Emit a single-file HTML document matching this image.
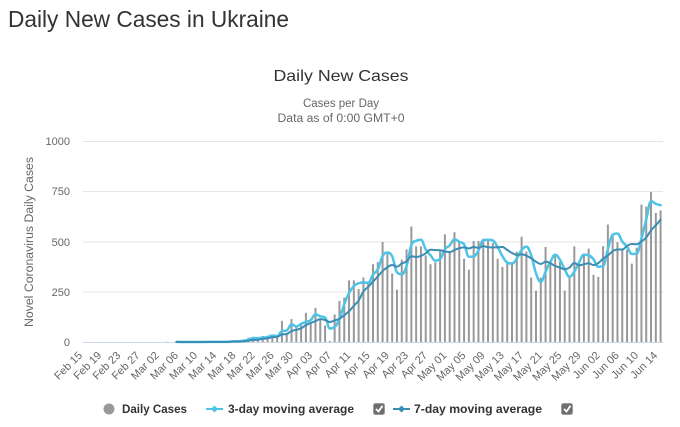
<!DOCTYPE html>
<html><head><meta charset="utf-8"><style>
html,body{margin:0;padding:0;background:#fff;}
body{width:680px;height:427px;overflow:hidden;}
svg{display:block;font-family:"Liberation Sans",Arial,sans-serif;}
</style></head><body>
<svg id="s" width="680" height="427" viewBox="0 0 680 427" xmlns="http://www.w3.org/2000/svg">
<rect width="680" height="427" fill="#fff"/>
<text x="8" y="27" font-size="23" fill="#333" textLength="281" lengthAdjust="spacingAndGlyphs">Daily New Cases in Ukraine</text>
<text x="341" y="81" font-size="16" fill="#333" text-anchor="middle" textLength="135" lengthAdjust="spacingAndGlyphs">Daily New Cases</text>
<text x="341" y="107" font-size="11.5" fill="#666" text-anchor="middle">Cases per Day</text>
<text x="341" y="122" font-size="11.5" fill="#666" text-anchor="middle" textLength="127" lengthAdjust="spacingAndGlyphs">Data as of 0:00 GMT+0</text>
<g stroke="#e6e6e6" stroke-width="1">
<line x1="83" y1="141.5" x2="663" y2="141.5"/>
<line x1="83" y1="191.5" x2="663" y2="191.5"/>
<line x1="83" y1="242" x2="663" y2="242"/>
<line x1="83" y1="292" x2="663" y2="292"/>
</g>
<line x1="83" y1="342.5" x2="663" y2="342.5" stroke="#ccd6eb" stroke-width="1"/>
<g font-size="11" fill="#666" text-anchor="end">
<text x="70" y="145">1000</text>
<text x="70" y="195">750</text>
<text x="70" y="246">500</text>
<text x="70" y="296">250</text>
<text x="70" y="346">0</text>
</g>
<text transform="translate(33,242) rotate(-90)" font-size="11.5" fill="#666" text-anchor="middle" textLength="170" lengthAdjust="spacingAndGlyphs">Novel Coronavirus Daily Cases</text>
<g id="bars"></g>
<g id="lines"></g>
<g font-size="11" fill="#666" text-anchor="end">
<text transform="translate(82.9,356) rotate(-45)">Feb 15</text>
<text transform="translate(102.1,356) rotate(-45)">Feb 19</text>
<text transform="translate(121.2,356) rotate(-45)">Feb 23</text>
<text transform="translate(140.4,356) rotate(-45)">Feb 27</text>
<text transform="translate(159.6,356) rotate(-45)">Mar 02</text>
<text transform="translate(178.8,356) rotate(-45)">Mar 06</text>
<text transform="translate(197.9,356) rotate(-45)">Mar 10</text>
<text transform="translate(217.1,356) rotate(-45)">Mar 14</text>
<text transform="translate(236.3,356) rotate(-45)">Mar 18</text>
<text transform="translate(255.5,356) rotate(-45)">Mar 22</text>
<text transform="translate(274.6,356) rotate(-45)">Mar 26</text>
<text transform="translate(293.8,356) rotate(-45)">Mar 30</text>
<text transform="translate(313.0,356) rotate(-45)">Apr 03</text>
<text transform="translate(332.1,356) rotate(-45)">Apr 07</text>
<text transform="translate(351.3,356) rotate(-45)">Apr 11</text>
<text transform="translate(370.5,356) rotate(-45)">Apr 15</text>
<text transform="translate(389.7,356) rotate(-45)">Apr 19</text>
<text transform="translate(408.8,356) rotate(-45)">Apr 23</text>
<text transform="translate(428.0,356) rotate(-45)">Apr 27</text>
<text transform="translate(447.2,356) rotate(-45)">May 01</text>
<text transform="translate(466.3,356) rotate(-45)">May 05</text>
<text transform="translate(485.5,356) rotate(-45)">May 09</text>
<text transform="translate(504.7,356) rotate(-45)">May 13</text>
<text transform="translate(523.9,356) rotate(-45)">May 17</text>
<text transform="translate(543.0,356) rotate(-45)">May 21</text>
<text transform="translate(562.2,356) rotate(-45)">May 25</text>
<text transform="translate(581.4,356) rotate(-45)">May 29</text>
<text transform="translate(600.5,356) rotate(-45)">Jun 02</text>
<text transform="translate(619.7,356) rotate(-45)">Jun 06</text>
<text transform="translate(638.9,356) rotate(-45)">Jun 10</text>
<text transform="translate(658.1,356) rotate(-45)">Jun 14</text>
</g>
<!-- legend -->
<circle cx="109" cy="409" r="5.5" fill="#999"/>
<text x="122" y="413" font-size="12" font-weight="bold" fill="#333" textLength="65" lengthAdjust="spacingAndGlyphs">Daily Cases</text>
<line x1="206" y1="409" x2="223" y2="409" stroke="#4ec3e8" stroke-width="2"/>
<path d="M214.5 405.5 L218 409 L214.5 412.5 L211 409 Z" fill="#4ec3e8"/>
<text x="228" y="413" font-size="12" font-weight="bold" fill="#333" textLength="126" lengthAdjust="spacingAndGlyphs">3-day moving average</text>
<rect x="373.5" y="403.5" width="11" height="11" rx="2" fill="#6e6e6e" stroke="#9a9a9a" stroke-width="1"/>
<path d="M376 409 L378.5 411.5 L382.5 405.8" fill="none" stroke="#fff" stroke-width="1.8"/>
<line x1="393" y1="409" x2="410" y2="409" stroke="#3a8db4" stroke-width="2"/>
<path d="M401.5 405.5 L405 409 L401.5 412.5 L398 409 Z" fill="#3a8db4"/>
<text x="414" y="413" font-size="12" font-weight="bold" fill="#333" textLength="128" lengthAdjust="spacingAndGlyphs">7-day moving average</text>
<rect x="561.5" y="403.5" width="11" height="11" rx="2" fill="#6e6e6e" stroke="#9a9a9a" stroke-width="1"/>
<path d="M564 409 L566.5 411.5 L570.5 405.8" fill="none" stroke="#fff" stroke-width="1.8"/>
</svg>
<script>
(function(){
var d=new Array(121).fill(0);
var early={17:1,26:2,29:2,30:2,31:7,32:2,33:10,34:21,35:26,36:10,37:30,38:32,39:35,40:22};
for(var k in early)d[+k]=early[k];
var rest=[105,45,114,72,84,145,98,170,115,82,5,137,204,221,307,307,263,321,299,387,397,498,440,341,261,410,461,575,476,476,431,387,397,453,536,453,546,498,415,360,503,503,514,509,493,415,374,398,398,450,524,450,321,256,320,473,402,428,398,256,320,476,393,436,465,334,324,477,585,539,497,465,460,390,470,684,674,746,643,655];
for(var i=0;i<rest.length;i++)d[41+i]=rest[i];
var L=83,W=580,N=121,cw=W/N;
function X(i){return L+(i+0.5)*cw;}
function Y(v){return 342-v*0.2009;}
var NS="http://www.w3.org/2000/svg";
var p="";
for(i=0;i<N;i++){if(d[i]>0){var x=X(i)-1,y=Y(d[i]);p+="M"+x.toFixed(2)+" "+y.toFixed(2)+"h2V342h-2Z";}}
var bp=document.createElementNS(NS,"path");bp.setAttribute("d",p);bp.setAttribute("fill","#999");
document.getElementById("bars").appendChild(bp);
function ma(n){var a=[];for(var i=0;i<N;i++){var s=0;for(var j=i-n+1;j<=i;j++){s+=(j>=0?d[j]:0);}a.push(s/n);}return a;}
function spline(pts){
var n=pts.length,sm=1.5,den=2.5,lc=[],rc=[];
for(var i=0;i<n;i++){
if(i==0||i==n-1){lc[i]=pts[i];rc[i]=pts[i];continue;}
var lx=pts[i-1][0],ly=pts[i-1][1],x=pts[i][0],y=pts[i][1],nx=pts[i+1][0],ny=pts[i+1][1];
var lcx=(sm*x+lx)/den,lcy=(sm*y+ly)/den,rcx=(sm*x+nx)/den,rcy=(sm*y+ny)/den;
var corr=((rcy-lcy)*(rcx-x))/(rcx-lcx)+y-rcy;lcy+=corr;rcy+=corr;
if(lcy>ly&&lcy>y){lcy=Math.max(ly,y);rcy=2*y-lcy;}else if(lcy<ly&&lcy<y){lcy=Math.min(ly,y);rcy=2*y-lcy;}
if(rcy>ny&&rcy>y){rcy=Math.max(ny,y);lcy=2*y-rcy;}else if(rcy<ny&&rcy<y){rcy=Math.min(ny,y);lcy=2*y-rcy;}
lc[i]=[lcx,lcy];rc[i]=[rcx,rcy];}
var s="M"+pts[0][0].toFixed(2)+" "+pts[0][1].toFixed(2);
for(i=1;i<n;i++){s+="C"+rc[i-1][0].toFixed(2)+" "+rc[i-1][1].toFixed(2)+" "+lc[i][0].toFixed(2)+" "+lc[i][1].toFixed(2)+" "+pts[i][0].toFixed(2)+" "+pts[i][1].toFixed(2);}
return s;}
function line(arr,col,w){var pts=[];for(var i=19;i<N;i++)pts.push([X(i),Y(arr[i])]);
var e=document.createElementNS(NS,"path");e.setAttribute("d",spline(pts));e.setAttribute("fill","none");e.setAttribute("stroke",col);e.setAttribute("stroke-width",w);e.setAttribute("stroke-linejoin","round");e.setAttribute("stroke-linecap","round");
document.getElementById("lines").appendChild(e);}
line(ma(3),"#4ec3e8","2.5");
line(ma(7),"#3a8db4","2");
})();
</script>
</body></html>
